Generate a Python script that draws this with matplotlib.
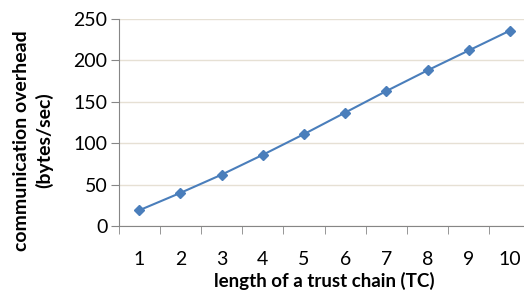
import numpy as np
import matplotlib.pyplot as plt

# chain length vs. overhead
tc_length = [1, 2, 3, 4, 5, 6, 7, 8, 9, 10]
overhead = [19, 40, 62, 86, 111, 137, 163, 188, 212, 236]

plt.rcParams['font.family'] = ['Lato', 'DejaVu Sans']

fig = plt.figure(figsize=(5.24, 2.91), dpi=100)
ax = fig.add_axes([0.2265, 0.2234, 0.786, 0.7113])

ax.plot(tc_length, overhead, '-D', color='#4a7ebb', markersize=5, linewidth=1.5)

ax.set_xlim(0.5, 10.5)
ax.set_ylim(0, 250)
ax.set_yticks(np.arange(0, 251, 50))
ax.set_xticks(tc_length)
ax.set_xticks(np.arange(0.5, 10.6, 1), minor=True)
ax.tick_params(axis='x', which='major', length=0, labelsize=14, pad=18)
ax.tick_params(axis='x', which='minor', length=6, color='#868686', direction='out')
ax.tick_params(axis='y', length=6, color='#868686', labelsize=14, pad=2)

ax.grid(axis='y', color='#e6e0d4', linewidth=1)
ax.set_axisbelow(True)
for side in ['top', 'right']:
    ax.spines[side].set_visible(False)
for side in ['left', 'bottom']:
    ax.spines[side].set_color('#868686')

ax.set_xlabel('length of a trust chain (TC)', fontsize=13.5, fontweight='bold', labelpad=3)
ax.set_ylabel('communication overhead\n(bytes/sec)', fontsize=14, fontweight='bold', labelpad=10,
              linespacing=1.3)
ax.yaxis.set_label_coords(-0.16, 0.413)

fig.savefig('out.png', dpi=100)
